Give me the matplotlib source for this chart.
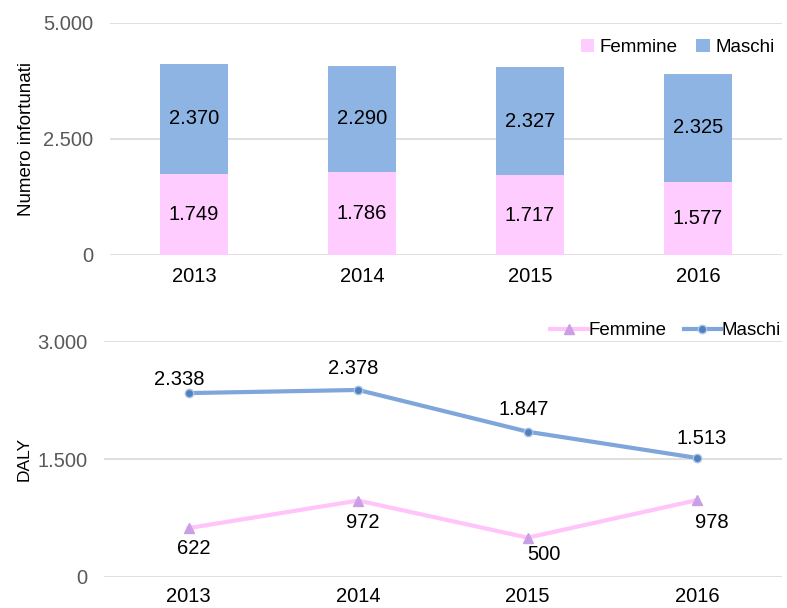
import numpy as np
import matplotlib.pyplot as plt
from matplotlib.ticker import FuncFormatter

plt.rcParams['font.family'] = ['Liberation Sans', 'DejaVu Sans']

anni = ['2013', '2014', '2015', '2016']
# infortunati
inf_femmine = [1749, 1786, 1717, 1577]
inf_maschi = [2370, 2290, 2327, 2325]
# DALY
daly_femmine = [622, 972, 500, 978]
daly_maschi = [2338, 2378, 1847, 1513]

rosa = '#FFCCFF'
azzurro = '#8EB4E3'
grigio = '#D9D9D9'

# spostamento etichette linee (pixel)
off_maschi = [(-9, 14), (-5, 21), (-4, 22), (4, 19)]
off_femmine = [(5, -20), (5, -22), (16, -17), (15, -22)]


def punti(v, pos=None):
    return f'{int(v):,}'.replace(',', '.')


fig = plt.figure(figsize=(7.87, 6.08), dpi=100)
x = np.arange(len(anni))

# --- grafico a barre ---
ax1 = fig.add_axes([0.1398, 0.5806, 0.8538, 0.3816])
ax1.bar(x, inf_femmine, 0.4, color=rosa, label='Femmine', zorder=2)
ax1.bar(x, inf_maschi, 0.4, bottom=inf_femmine, color=azzurro,
        label='Maschi', zorder=2)
for i in range(len(anni)):
    ax1.text(x[i], inf_femmine[i] / 2, punti(inf_femmine[i]),
             ha='center', va='center', fontsize=14.5, color='black')
    ax1.text(x[i], inf_femmine[i] + inf_maschi[i] / 2, punti(inf_maschi[i]),
             ha='center', va='center', fontsize=14.5, color='black')
ax1.set_xlim(-0.5, 3.5)
ax1.set_ylim(0, 5000)
ax1.set_yticks([0, 2500, 5000])
ax1.yaxis.set_major_formatter(FuncFormatter(punti))
ax1.set_xticks(x)
ax1.set_xticklabels(anni)
ax1.set_ylabel('Numero infortunati', fontsize=13.5, labelpad=6)
ax1.legend(loc='upper right', bbox_to_anchor=(1.0, 0.965), ncol=2, frameon=False,
           fontsize=13.5, handlelength=0.7, handleheight=0.7, handletextpad=0.3,
           columnspacing=1.0, borderaxespad=0)

# --- grafico a linee ---
ax2 = fig.add_axes([0.1321, 0.051, 0.8615, 0.3881])
ax2.plot(x, daly_femmine, color='#FFC4FA', lw=3, marker='^', ms=7.5,
         mfc='#C9A0E6', mec='#C9A0E6', label='Femmine', zorder=3)
ax2.plot(x, daly_maschi, color='#7FA6DA', lw=3, marker='o', ms=6,
         mfc='#4F81BD', mec='#A9C4E8', label='Maschi', zorder=3)
for i in range(len(anni)):
    ax2.annotate(punti(daly_maschi[i]), (x[i], daly_maschi[i]),
                 xytext=off_maschi[i], textcoords='offset pixels',
                 ha='center', va='center', fontsize=14.5)
    ax2.annotate(punti(daly_femmine[i]), (x[i], daly_femmine[i]),
                 xytext=off_femmine[i], textcoords='offset pixels',
                 ha='center', va='center', fontsize=14.5)
ax2.set_xlim(-0.5, 3.5)
ax2.set_ylim(0, 3000)
ax2.set_yticks([0, 1500, 3000])
ax2.yaxis.set_major_formatter(FuncFormatter(punti))
ax2.set_xticks(x)
ax2.set_xticklabels(anni)
ax2.set_ylabel('DALY', fontsize=12.5, labelpad=4)
ax2.legend(loc='lower right', bbox_to_anchor=(1.01, 0.975), ncol=2, frameon=False,
           fontsize=13.5, handlelength=2.0, handletextpad=0.05,
           columnspacing=0.9, borderaxespad=0)

for ax in (ax1, ax2):
    for s in ax.spines.values():
        s.set_visible(False)
    ax.grid(axis='y', color=grigio, lw=1.2, zorder=0)
    ax.set_axisbelow(True)
    ax.tick_params(axis='both', length=0, labelsize=14.5)
    ax.tick_params(axis='y', colors='#595959', pad=12)
    ax.tick_params(axis='x', pad=9)
ax2.tick_params(axis='x', pad=7)

fig.savefig('out.png', dpi=100)
